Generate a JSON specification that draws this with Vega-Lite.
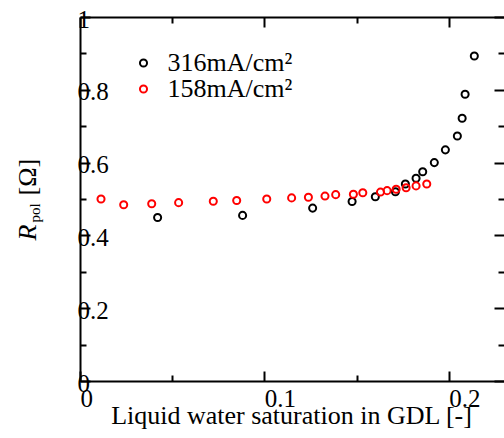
{
  "$schema": "https://vega.github.io/schema/vega-lite/v6.json",
  "width": 424,
  "height": 364,
  "autosize": {"type": "none"},
  "padding": {"left": 80, "top": 17, "right": 0, "bottom": 57},
  "background": "white",
  "config": {
    "view": {"stroke": null},
    "font": "Liberation Serif",
    "axis": {
      "grid": false,
      "domain": false,
      "tickColor": "black",
      "tickWidth": 2,
      "labelFont": "Liberation Serif",
      "labelFontSize": 25,
      "labelColor": "black",
      "labelFlush": false,
      "labelOverlap": false,
      "labelBound": false,
      "titleFont": "Liberation Serif",
      "titleFontSize": 26,
      "titleColor": "black",
      "titleFontWeight": "normal",
      "domainColor": "black",
      "domainWidth": 2
    },
    "legend": {
      "labelFont": "Liberation Serif",
      "labelFontSize": 26,
      "labelColor": "black"
    }
  },
  "data": {
    "values": [
      {"s": 0.0421, "R": 0.449, "series": "316mA/cm²"},
      {"s": 0.0882, "R": 0.455, "series": "316mA/cm²"},
      {"s": 0.1262, "R": 0.475, "series": "316mA/cm²"},
      {"s": 0.1476, "R": 0.493, "series": "316mA/cm²"},
      {"s": 0.1602, "R": 0.506, "series": "316mA/cm²"},
      {"s": 0.1711, "R": 0.520, "series": "316mA/cm²"},
      {"s": 0.1765, "R": 0.541, "series": "316mA/cm²"},
      {"s": 0.1823, "R": 0.557, "series": "316mA/cm²"},
      {"s": 0.1859, "R": 0.575, "series": "316mA/cm²"},
      {"s": 0.1922, "R": 0.600, "series": "316mA/cm²"},
      {"s": 0.1982, "R": 0.635, "series": "316mA/cm²"},
      {"s": 0.2047, "R": 0.673, "series": "316mA/cm²"},
      {"s": 0.2073, "R": 0.722, "series": "316mA/cm²"},
      {"s": 0.2089, "R": 0.788, "series": "316mA/cm²"},
      {"s": 0.2139, "R": 0.893, "series": "316mA/cm²"},
      {"s": 0.0114, "R": 0.500, "series": "158mA/cm²"},
      {"s": 0.0237, "R": 0.484, "series": "158mA/cm²"},
      {"s": 0.0389, "R": 0.487, "series": "158mA/cm²"},
      {"s": 0.0535, "R": 0.490, "series": "158mA/cm²"},
      {"s": 0.0723, "R": 0.494, "series": "158mA/cm²"},
      {"s": 0.0850, "R": 0.496, "series": "158mA/cm²"},
      {"s": 0.1013, "R": 0.500, "series": "158mA/cm²"},
      {"s": 0.1148, "R": 0.503, "series": "158mA/cm²"},
      {"s": 0.1239, "R": 0.505, "series": "158mA/cm²"},
      {"s": 0.1329, "R": 0.508, "series": "158mA/cm²"},
      {"s": 0.1387, "R": 0.512, "series": "158mA/cm²"},
      {"s": 0.1483, "R": 0.513, "series": "158mA/cm²"},
      {"s": 0.1534, "R": 0.517, "series": "158mA/cm²"},
      {"s": 0.1630, "R": 0.519, "series": "158mA/cm²"},
      {"s": 0.1666, "R": 0.523, "series": "158mA/cm²"},
      {"s": 0.1715, "R": 0.527, "series": "158mA/cm²"},
      {"s": 0.1769, "R": 0.531, "series": "158mA/cm²"},
      {"s": 0.1823, "R": 0.536, "series": "158mA/cm²"},
      {"s": 0.1881, "R": 0.541, "series": "158mA/cm²"}
    ]
  },
  "resolve": {"axis": {"x": "independent", "y": "independent"}},
  "layer": [
    {
      "mark": {"type": "point", "shape": "circle", "filled": false, "strokeWidth": 2, "size": 50, "opacity": 1},
      "encoding": {
        "x": {
          "field": "s", "type": "quantitative",
          "scale": {"domain": [0, 0.23], "nice": false, "zero": false},
          "axis": {
            "orient": "bottom", "values": [0, 0.1, 0.2], "format": "~g",
            "tickSize": -10, "domain": true,
            "labelAlign": "left", "labelBaseline": "alphabetic", "labelPadding": 35,
            "title": "Liquid water saturation in GDL [-]",
            "titleX": 211, "titleY": 42, "titleBaseline": "alphabetic", "titleAlign": "center"
          }
        },
        "y": {
          "field": "R", "type": "quantitative",
          "scale": {"domain": [0, 1], "nice": false, "zero": false},
          "axis": {
            "orient": "left", "values": [0, 0.2, 0.4, 0.6, 0.8, 1], "format": "~g",
            "tickSize": -10, "domain": true,
            "labelAlign": "left", "labelBaseline": "middle", "labelPadding": 13, "labelOffset": 2,
            "title": "R", "titleFontStyle": "italic",
            "titleAngle": 270, "titleAlign": "left", "titleBaseline": "alphabetic",
            "titleX": -45, "titleY": 223
          }
        },
        "color": {
          "field": "series", "type": "nominal",
          "scale": {"domain": ["316mA/cm²", "158mA/cm²"], "range": ["#000000", "#ff0000"]},
          "legend": {
            "title": null, "orient": "none", "legendX": 50.5, "legendY": 33,
            "symbolType": "circle", "symbolSize": 50, "symbolStrokeWidth": 2, "symbolOpacity": 1,
            "symbolFillColor": "transparent", "labelOffset": 11, "rowPadding": -4, "padding": 0
          }
        },
        "order": {"field": "series", "sort": "descending"}
      }
    },
    {
      "mark": {"type": "point", "opacity": 0},
      "encoding": {
        "x": {
          "field": "s", "type": "quantitative",
          "scale": {"domain": [0, 0.23], "nice": false, "zero": false},
          "axis": {
            "orient": "top", "values": [0, 0.1, 0.2], "tickSize": -10, "labels": false, "domain": true,
            "title": "pol", "titleFontSize": 15, "titleAngle": 270, "titleAlign": "left",
            "titleBaseline": "alphabetic", "titleX": -40.5, "titleY": 205
          }
        },
        "y": {
          "field": "R", "type": "quantitative",
          "scale": {"domain": [0, 1], "nice": false, "zero": false},
          "axis": {
            "orient": "right", "values": [0, 0.2, 0.4, 0.6, 0.8, 1], "tickSize": -10, "labels": false, "domain": false,
            "title": "[Ω]", "titleAngle": 270, "titleAlign": "left",
            "titleBaseline": "alphabetic", "titleX": -468.5, "titleY": 178
          }
        }
      }
    },
    {
      "mark": {"type": "point", "opacity": 0},
      "encoding": {
        "x": {
          "field": "s", "type": "quantitative",
          "scale": {"domain": [0, 0.23], "nice": false, "zero": false},
          "axis": {"orient": "bottom", "values": [0.05, 0.15], "tickSize": -6, "labels": false, "title": null}
        },
        "y": {
          "field": "R", "type": "quantitative",
          "scale": {"domain": [0, 1], "nice": false, "zero": false},
          "axis": {"orient": "left", "values": [0.1, 0.3, 0.5, 0.7, 0.9], "tickSize": -6, "labels": false, "title": null}
        }
      }
    },
    {
      "mark": {"type": "point", "opacity": 0},
      "encoding": {
        "x": {
          "field": "s", "type": "quantitative",
          "scale": {"domain": [0, 0.23], "nice": false, "zero": false},
          "axis": {"orient": "top", "values": [0.05, 0.15], "tickSize": -6, "labels": false, "title": null}
        },
        "y": {
          "field": "R", "type": "quantitative",
          "scale": {"domain": [0, 1], "nice": false, "zero": false},
          "axis": {"orient": "right", "values": [0.1, 0.3, 0.5, 0.7, 0.9], "tickSize": -6, "labels": false, "title": null}
        }
      }
    }
  ]
}
